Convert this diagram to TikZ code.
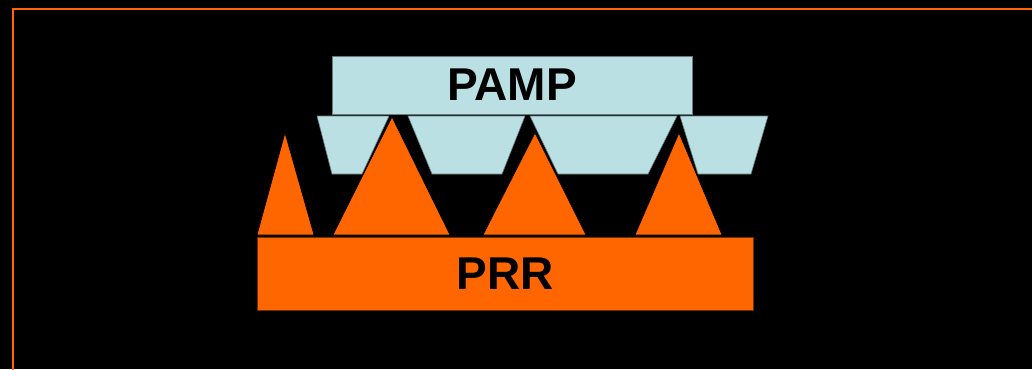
\documentclass[tikz,border=0pt]{standalone}
\usepackage{fontspec}
\setmainfont{Liberation Sans}
\definecolor{pampblue}{HTML}{BAE0E3}
\definecolor{prrorange}{HTML}{FF6600}

\begin{document}
\begin{tikzpicture}[x=1pt,y=-1pt]
\tikzset{
every node/.style={font=\fontsize{46}{50}\selectfont\bfseries, inner sep=0pt}, % big bold labels
pamp/.style={fill=pampblue, draw=black!45!pampblue, line width=0.6pt}, % pathogen side
prr/.style={fill=prrorange, draw=black!55!prrorange, line width=0.6pt}, % receptor side
spike/.style={fill=prrorange, draw=black, line width=0.6pt}, % receptor triangles
}
	% slide background and frame
	\fill[black] (0,0) rectangle (1032,369);
	\useasboundingbox (0,0) rectangle (1032,369);
	\draw[prrorange, line width=2pt] (13,400) -- (13,9) -- (1040,9);

	% PAMP bar with its pockets
	\node[pamp, minimum width=360pt, minimum height=58pt] (pampbar) at (512,85) {PAMP};
	\draw[pamp] (317,116) -- (389,116) -- (362,174) -- (332,174) -- cycle;
	\draw[pamp] (408,116) -- (525,116) -- (502,174) -- (432,174) -- cycle;
	\draw[pamp] (530,116) -- (677,116) -- (648,174) -- (558,174) -- cycle;
	\draw[pamp] (680,116) -- (768,116) -- (751,174) -- (698,174) -- cycle;

	% PRR base with its spikes
	\node[prr, minimum width=496pt, minimum height=73pt] (prrbar) at (505,273.5) {PRR};
	\draw[spike] (257,235) -- (285,133) -- (314,235) -- cycle;
	\draw[spike] (333,235) -- (392,117) -- (450,235) -- cycle;
	\draw[spike] (483,235) -- (535,133) -- (586,235) -- cycle;
	\draw[spike] (635,235) -- (679,133) -- (722,235) -- cycle;
\end{tikzpicture}
\end{document}
